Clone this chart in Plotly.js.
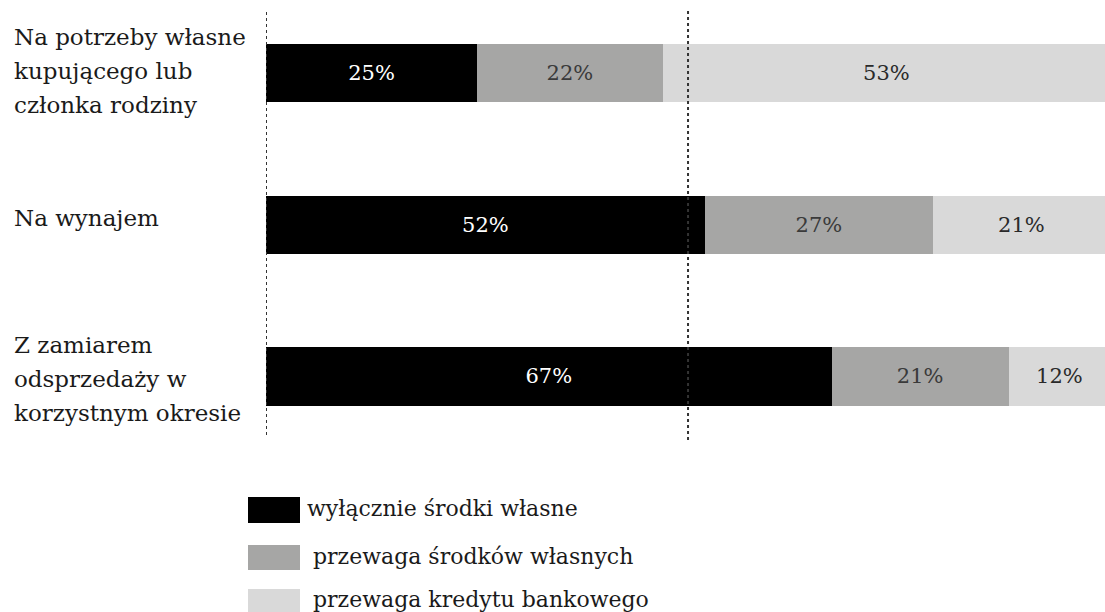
<!DOCTYPE html>
<html>
<head>
<meta charset="utf-8">
<script src="https://cdn.plot.ly/plotly-3.0.1.min.js"></script>
<style>html,body{margin:0;padding:0;background:#fff;}#chart{width:1105px;height:612px;}</style>
</head>
<body>
<div id="chart"></div>
<script>
// Data
const categories = ["Na potrzeby własne kupującego lub członka rodziny", "Na wynajem", "Z zamiarem odsprzedaży w korzystnym okresie"];
const categoryLabelLines = [["Na potrzeby własne", "kupującego lub", "członka rodziny"], ["Na wynajem"], ["Z zamiarem", "odsprzedaży w", "korzystnym okresie"]];
const seriesNames = ["wyłącznie środki własne", "przewaga środków własnych", "przewaga kredytu bankowego"];
const onlyOwn = [25, 52, 67];
const mostlyOwn = [22, 27, 21];
const mostlyCredit = [53, 21, 12];

const colors = ["#000000", "#a6a6a5", "#d9d9d9"];
const textColors = ["#ffffff", "#3a3a3a", "#2a2a2a"];
const serif = "DejaVu Serif";

const seriesValues = [onlyOwn, mostlyOwn, mostlyCredit];
const traces = seriesValues.map((vals, i) => ({
  type: "bar",
  orientation: "h",
  name: seriesNames[i],
  y: categories,
  x: vals,
  width: 0.385,
  marker: {color: colors[i], line: {width: 0}},
  text: vals.map(v => v + "%"),
  textposition: "inside",
  insidetextanchor: "middle",
  textfont: {family: serif, size: 21, color: textColors[i]},
  hoverinfo: "skip",
  showlegend: false
}));

// geometry helpers (plot area: x 266..1105, y 0..440)
const L = 266, R = 1105, T = 0, B = 440;
const px = x => (x - L) / (R - L);
const py = y => (B - y) / (B - T);

const annotations = [];
const lineGap = 34;
const rowShift = [-2, -7, 3];
categoryLabelLines.forEach((lines, i) => {
  const n = lines.length;
  lines.forEach((ln, j) => {
    annotations.push({
      xref: "paper", yref: "y", x: px(12), y: categories[i],
      yshift: -((j - (n - 1) / 2) * lineGap) - rowShift[i],
      xanchor: "left", yanchor: "middle", align: "left",
      text: ln, showarrow: false,
      font: {family: serif, size: 23, color: "#1a1a1a"}
    });
  });
});

const legendRows = [[497, 523], [545, 570], [589, 612]];
const shapes = [
  {type: "line", xref: "x", yref: "paper", x0: 0, x1: 0, y0: py(435), y1: py(10),
   line: {color: "#333", width: 2, dash: "dot"}},
  {type: "line", xref: "x", yref: "paper", x0: 50, x1: 50, y0: py(440), y1: py(10),
   line: {color: "#333", width: 2, dash: "dot"}}
];
legendRows.forEach((r, i) => {
  shapes.push({type: "rect", xref: "paper", yref: "paper", x0: px(248), x1: px(300),
    y0: py(r[1]), y1: py(r[0]), fillcolor: colors[i], line: {width: 0}, layer: "above"});
  annotations.push({xref: "paper", yref: "paper", x: px(i === 0 ? 305 : 311), y: py((r[0] + r[1]) / 2 - 1),
    xanchor: "left", yanchor: "middle", text: seriesNames[i], showarrow: false,
    font: {family: serif, size: 22, color: "#1a1a1a"}});
});

const layout = {
  width: 1105, height: 612,
  margin: {l: L, r: 1105 - R, t: T, b: 612 - B, pad: 0},
  barmode: "stack",
  font: {family: serif},
  paper_bgcolor: "#ffffff", plot_bgcolor: "#ffffff",
  xaxis: {range: [0, 99.4], showgrid: false, zeroline: false, showticklabels: false, showline: false, ticks: ""},
  yaxis: {type: "category", range: [2.42, -0.483], showgrid: false, zeroline: false, showticklabels: false, showline: false, ticks: ""},
  showlegend: false,
  shapes: shapes,
  annotations: annotations,
  uniformtext: {mode: false}
};

Plotly.newPlot("chart", traces, layout, {displayModeBar: false, staticPlot: true});
</script>
</body>
</html>
